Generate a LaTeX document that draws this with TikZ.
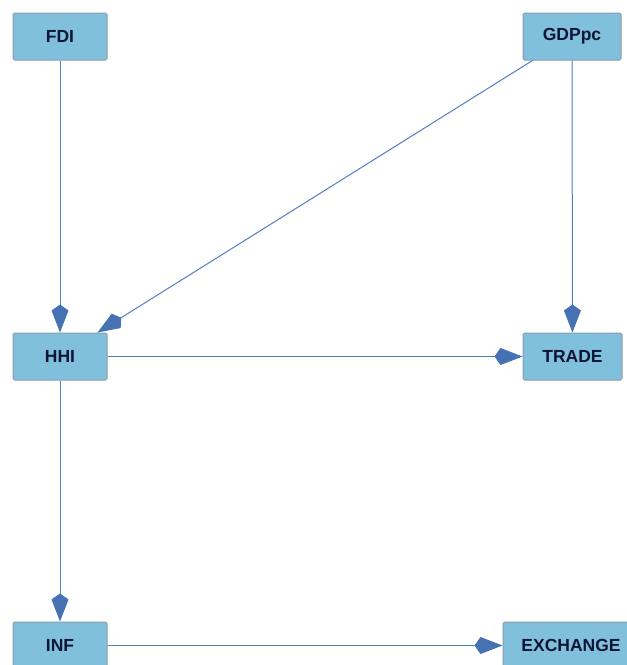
\documentclass[tikz,border=0pt]{standalone}
\usepackage{fontspec}
\setmainfont{Liberation Sans}
\usetikzlibrary{arrows.meta}
\definecolor{boxfill}{HTML}{80C0DD}
\definecolor{boxline}{HTML}{8C9BAA}
\definecolor{edgecol}{HTML}{4F7FBF}
\definecolor{headcol}{HTML}{4672B4}
\definecolor{txtcol}{HTML}{0E1535}
\tikzset{
  varbox/.style={draw=boxline, fill=boxfill, line width=1pt, rounded corners=1.5pt,
    minimum height=47pt, inner sep=0pt, font=\fontsize{17.5}{20}\selectfont\bfseries,
    text=txtcol, anchor=center},
  edge/.style={draw=edgecol, line width=1pt,
    -{Kite[length=28pt,width=17pt,inset=6pt,color=headcol]}}
}
\begin{document}
\begin{tikzpicture}[x=1pt,y=-1pt]
\useasboundingbox (0,0) rectangle (627,665);
\node[varbox, minimum width=94pt] (fdi) at (60,36.5) {FDI};
\node[varbox, minimum width=98pt] (gdp) at (572,36.5) {GDPpc};
\node[varbox, minimum width=94pt] (hhi) at (60,356.5) {HHI};
\node[varbox, minimum width=99pt] (trade) at (572.5,356.5) {TRADE};
\node[varbox, minimum width=94pt] (inf) at (60,645.5) {INF};
\node[varbox, minimum width=136pt] (exch) at (571,645.5) {EXCHANGE};
\draw[edge] (fdi) -- (hhi);
\draw[edge] ([xshift=10pt]gdp.south west) -- ([xshift=-10pt]hhi.north east);
\draw[edge] (gdp) -- (trade);
\draw[edge] (hhi) -- (trade);
\draw[edge] (hhi) -- (inf);
\draw[edge] (inf) -- (exch);
\end{tikzpicture}
\end{document}
